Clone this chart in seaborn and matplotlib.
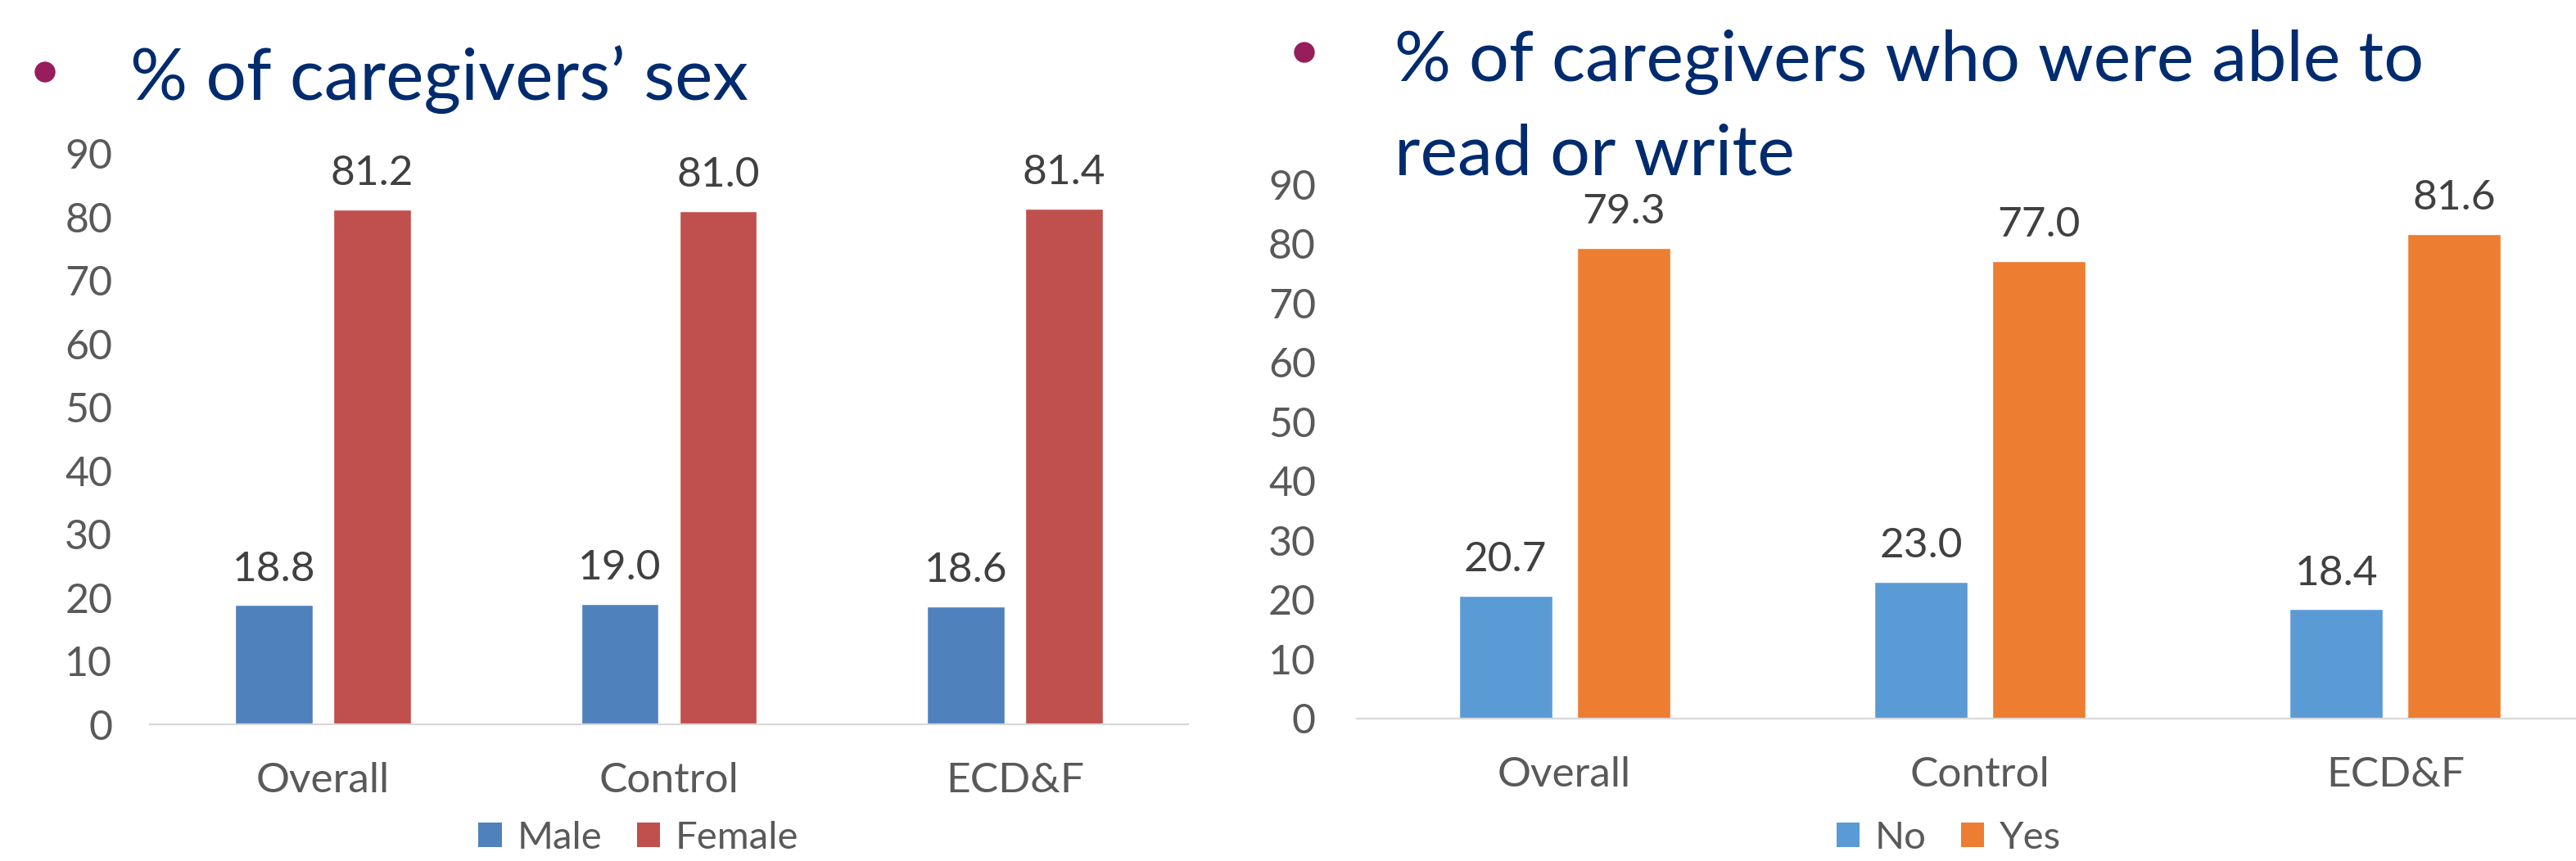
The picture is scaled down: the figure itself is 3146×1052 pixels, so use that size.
import numpy as np
import pandas as pd
import seaborn as sns
import matplotlib.pyplot as plt
from matplotlib.patches import Patch, Ellipse

# data
groups = ["Overall", "Control", "ECD&F"]
sex_labels = ["Male", "Female"]
male = [18.8, 19.0, 18.6]
female = [81.2, 81.0, 81.4]
rw_labels = ["No", "Yes"]
no_rw = [20.7, 23.0, 18.4]
yes_rw = [79.3, 77.0, 81.6]
yticks = list(range(0, 100, 10))

sex_colors = ["#4F81BD", "#C0504D"]
rw_colors = ["#5B9BD5", "#ED7D31"]
navy = "#002B6E"
bullet = "#971D5C"
grey = "#595959"

sns.set_style("white")
plt.rcParams['font.family'] = ['Lato', 'DejaVu Sans']

W, H = 3146, 1052
fig = plt.figure(figsize=(W / 100, H / 100), dpi=100)

def long_df(a, b, names):
    return pd.DataFrame({
        "group": groups * 2,
        "value": list(a) + list(b),
        "series": [names[0]] * len(a) + [names[1]] * len(b),
    })

def draw(ax, df, colors, ypad):
    sns.barplot(data=df, x="group", y="value", hue="series", palette=colors,
                width=0.568, gap=0.21, ax=ax, legend=False, saturation=1)
    ax.set_ylim(0, 90)
    ax.set_yticks(yticks)
    ax.set_xlabel("")
    ax.set_ylabel("")
    for s in ["top", "right", "left"]:
        ax.spines[s].set_visible(False)
    ax.spines["bottom"].set_color("#D9D9D9")
    ax.spines["bottom"].set_linewidth(1.6)
    ax.tick_params(axis="y", length=0, pad=ypad, labelsize=36, labelcolor=grey)
    ax.tick_params(axis="x", length=0, pad=33, labelsize=37, labelcolor=grey)
    ax.patch.set_alpha(0)
    for c in ax.containers:
        ax.bar_label(c, fmt="%.1f", padding=15, fontsize=37, color="#404040")

# left chart
ax1 = fig.add_axes([183 / W, 1 - 885 / H, (1451 - 183) / W, (885 - 188) / H])
draw(ax1, long_df(male, female, sex_labels), sex_colors, 33)

# right chart (runs past the right edge as in the reference)
ax2 = fig.add_axes([1657 / W, 1 - 878 / H, 1522 / W, (878 - 225) / H])
draw(ax2, long_df(no_rw, yes_rw, rw_labels), rw_colors, 36)

# titles with bullets
def bullet_at(x, y):
    fig.add_artist(Ellipse((x / W, 1 - y / H), 24 / W, 24 / H,
                           transform=fig.transFigure, color=bullet))

bullet_at(55, 88)
fig.text(159 / W, 1 - 122 / H, "% of caregivers\u2019 sex", fontsize=63,
         color=navy, ha="left", va="baseline")
bullet_at(1593, 64)
fig.text(1703 / W, 1 - 98 / H, "% of caregivers who were able to", fontsize=62,
         color=navy, ha="left", va="baseline")
fig.text(1703 / W, 1 - 213 / H, "read or write", fontsize=62,
         color=navy, ha="left", va="baseline")

# legends
def legend_at(x, names, colors):
    handles = [Patch(facecolor=c, edgecolor="none", label=n) for n, c in zip(names, colors)]
    fig.legend(handles=handles, loc="center", bbox_to_anchor=(x / W, 1 - 1024 / H),
               ncol=2, frameon=False, fontsize=34, labelcolor=grey,
               handlelength=0.6, handleheight=0.6, handletextpad=0.4,
               columnspacing=0.9, borderpad=0)

legend_at(780, sex_labels, sex_colors)
legend_at(2380, rw_labels, rw_colors)

fig.savefig("out.png", dpi=100)
